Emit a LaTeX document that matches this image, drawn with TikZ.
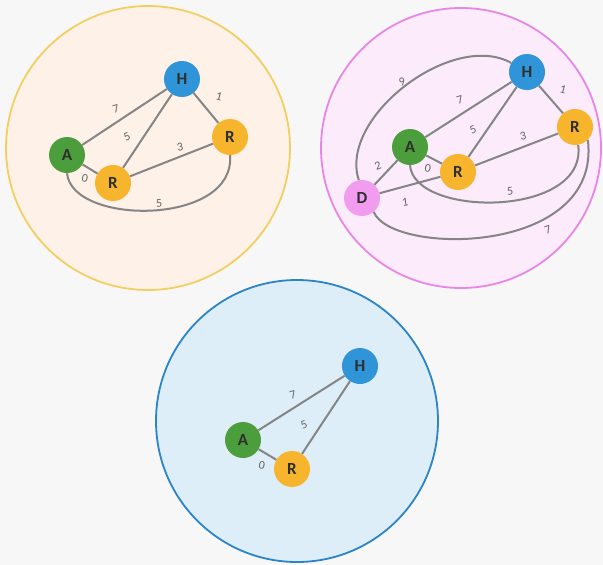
\documentclass[tikz,border=0pt]{standalone}
\usepackage{fontspec}
\setmainfont{Carlito}
\definecolor{bgc}{HTML}{F7F7F7}
\definecolor{peachf}{HTML}{FDF1E8}
\definecolor{peachb}{HTML}{F3CF62}
\definecolor{pinkf}{HTML}{FBEBFB}
\definecolor{pinkb}{HTML}{E886E6}
\definecolor{bluef}{HTML}{DEEEF9}
\definecolor{blueb}{HTML}{2C84C8}
\definecolor{ngreen}{HTML}{4C9E3C}
\definecolor{nblue}{HTML}{2F94D8}
\definecolor{nyellow}{HTML}{F7B52E}
\definecolor{npink}{HTML}{F29CF0}
\definecolor{edgec}{HTML}{858585}
\definecolor{txtc}{HTML}{2E2E2E}
\begin{document}
\begin{tikzpicture}[x=1pt,y=-1pt,
  group/.style={line width=1.8pt},
  vtx/.style={circle,minimum size=36pt,inner sep=0pt,text=txtc,font=\fontsize{17}{17}\selectfont\bfseries},
  hv/.style={vtx,fill=nblue},
  av/.style={vtx,fill=ngreen},
  rv/.style={vtx,fill=nyellow},
  dv/.style={vtx,fill=npink},
  con/.style={draw=edgec,line width=2pt},
  lbl/.style={text=edgec!75!black,font=\fontsize{12}{12}\selectfont,inner sep=0pt}]
\fill[bgc] (0,0) rectangle (603,565);
\useasboundingbox (0,0) rectangle (603,565);
% group circles
\draw[group,draw=peachb,fill=peachf] (148,148) circle (142);
\draw[group,draw=pinkb,fill=pinkf] (461,148) circle (140);
\draw[group,draw=blueb,fill=bluef] (297,421) circle (141);
% ---- circle 1
\node[hv] (h1) at (182,79) {H};
\node[av] (a1) at (67,155) {A};
\node[rv] (r1) at (113,183) {R};
\node[rv] (s1) at (230,137) {R};
\draw[con] (a1) -- (h1);
\draw[con] (r1) -- (h1);
\draw[con] (h1) -- (s1);
\draw[con] (a1) -- (r1);
\draw[con] (r1) -- (s1);
\draw[con] (a1.south) .. controls (72,226) and (236,226) .. (s1.south);
\node[lbl,rotate=17] (l1a) at (116,109) {7};
\node[lbl,rotate=22] (l1b) at (127,137) {5};
\node[lbl,rotate=-15] (l1c) at (219,97) {1};
\node[lbl,rotate=12] (l1d) at (180,147) {3};
\node[lbl,rotate=-12] (l1e) at (85,178) {0};
\node[lbl,rotate=5] (l1f) at (159,203) {5};
% ---- circle 2
\node[hv] (h2) at (527,72) {H};
\node[av] (a2) at (410,147) {A};
\node[rv] (r2) at (458,172) {R};
\node[rv] (s2) at (575,127) {R};
\node[dv] (d2) at (362,198) {D};
\draw[con] (a2) -- (h2);
\draw[con] (r2) -- (h2);
\draw[con] (h2) -- (s2);
\draw[con] (a2) -- (r2);
\draw[con] (r2) -- (s2);
\draw[con] (d2) -- (a2);
\draw[con] (d2) -- (r2);
\draw[con] (d2.100) .. controls (338,118) and (452,30) .. (h2.150);
\draw[con] (a2.south) .. controls (414,218) and (588,218) .. (s2.-80);
\draw[con] (d2.-50) .. controls (392,256) and (602,256) .. (s2.-45);
\node[lbl,rotate=18] (l2a) at (402,82) {9};
\node[lbl,rotate=17] (l2b) at (460,100) {7};
\node[lbl,rotate=22] (l2c) at (473,130) {5};
\node[lbl,rotate=-15] (l2d) at (563,90) {1};
\node[lbl,rotate=12] (l2e) at (523,136) {3};
\node[lbl,rotate=-12] (l2f) at (428,168) {0};
\node[lbl,rotate=20] (l2g) at (378,166) {2};
\node[lbl,rotate=8] (l2h) at (405,202) {1};
\node[lbl,rotate=8] (l2i) at (510,191) {5};
\node[lbl,rotate=20] (l2j) at (548,230) {7};
% ---- circle 3
\node[hv] (h3) at (360,366) {H};
\node[av] (a3) at (243,440) {A};
\node[rv] (r3) at (292,469) {R};
\draw[con] (a3) -- (h3);
\draw[con] (r3) -- (h3);
\draw[con] (a3) -- (r3);
\node[lbl,rotate=17] (l3a) at (293,395) {7};
\node[lbl,rotate=22] (l3b) at (304,425) {5};
\node[lbl,rotate=-12] (l3c) at (262,465) {0};
\end{tikzpicture}
\end{document}
